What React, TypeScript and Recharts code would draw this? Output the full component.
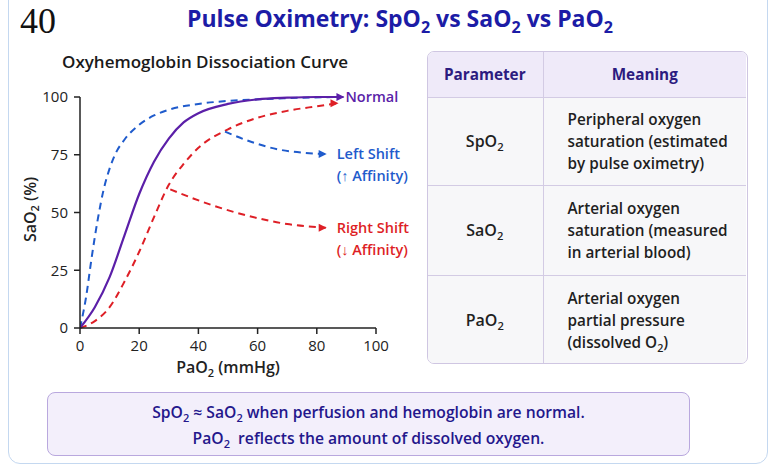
import React from 'react';
import { LineChart, Line, XAxis, YAxis, Label } from 'recharts';

// curve data (PaO2 mmHg -> SaO2 %)
const normalCurve = [
  { x: 0, y: 0 }, { x: 5, y: 9 }, { x: 10, y: 22 }, { x: 15, y: 40 }, { x: 20, y: 58 },
  { x: 25, y: 72 }, { x: 30, y: 82 }, { x: 35, y: 89 }, { x: 40, y: 93 }, { x: 50, y: 97 },
  { x: 60, y: 99 }, { x: 70, y: 99.7 }, { x: 80, y: 100 }, { x: 89, y: 100 },
];
const leftShiftCurve = [
  { x: 0, y: 0 }, { x: 2, y: 13 }, { x: 4, y: 31 }, { x: 6, y: 47 }, { x: 8, y: 60 },
  { x: 10, y: 69 }, { x: 12, y: 75.5 }, { x: 15, y: 81.5 }, { x: 20, y: 88 }, { x: 25, y: 92 },
  { x: 30, y: 94.5 }, { x: 40, y: 97 }, { x: 50, y: 98.3 }, { x: 60, y: 99 }, { x: 70, y: 99.5 },
  { x: 87, y: 100 },
];
const rightShiftCurve = [
  { x: 0, y: 0 }, { x: 5, y: 3 }, { x: 10, y: 9 }, { x: 15, y: 20 }, { x: 20, y: 33 },
  { x: 25, y: 48 }, { x: 30, y: 62 }, { x: 35, y: 71 }, { x: 40, y: 78 }, { x: 50, y: 86 },
  { x: 60, y: 91 }, { x: 70, y: 94 }, { x: 80, y: 96 }, { x: 87, y: 97.3 },
];
const leftPointer = [
  { x: 49, y: 85 }, { x: 58, y: 80.5 }, { x: 67, y: 77.3 }, { x: 76, y: 75.8 }, { x: 83, y: 75.3 },
];
const rightPointer = [
  { x: 30.5, y: 60 }, { x: 45, y: 53 }, { x: 57, y: 48.5 }, { x: 70, y: 45 }, { x: 83, y: 43.4 },
];

const xTicks = [0, 20, 40, 60, 80, 100];
const yTicks = [0, 25, 50, 75, 100];

const tableHead = ['Parameter', 'Meaning'];
const tableParams = ['SpO₂', 'SaO₂', 'PaO₂'];
const tableMeanings = [
  ['Peripheral oxygen', 'saturation (estimated', 'by pulse oximetry)'],
  ['Arterial oxygen', 'saturation (measured', 'in arterial blood)'],
  ['Arterial oxygen', 'partial pressure', '(dissolved O₂)'],
];
const noteLines = [
  'SpO₂ ≈ SaO₂ when perfusion and hemoglobin are normal.',
  'PaO₂  reflects the amount of dissolved oxygen.',
];

const PURPLE = '#5b1fa8';
const BLUE = '#1f5bcc';
const RED = '#de1f26';
const INK = '#24178c';
const FONT = '"Open Sans", "Noto Sans", sans-serif';

// html text with ₂ rendered as a subscript
function withSub(s: string) {
  const parts = s.split('₂');
  return parts.map((p, i) => (
    <React.Fragment key={i}>
      {p}
      {i < parts.length - 1 && <sub style={{ fontSize: '0.7em', verticalAlign: '-0.35em', lineHeight: 0 }}>2</sub>}
    </React.Fragment>
  ));
}

function arrowDot(color: string, len: number) {
  return (props: any) => {
    const { cx, cy, index } = props;
    if (index !== len - 1 || cx == null) return <g key={`d-${index}`} />;
    return (
      <path
        key={`d-${index}`}
        d={`M${cx - 7},${cy - 4} L${cx + 1},${cy} L${cx - 7},${cy + 4} Z`}
        fill={color}
      />
    );
  };
}

function endLabel(lines: string[], color: string, len: number, dx: number) {
  return (props: any) => {
    const { x, y, index } = props;
    if (index !== len - 1) return <g key={`l-${index}`} />;
    return (
      <text key={`l-${index}`} x={x + dx} fill={color} fontSize={14.5} fontWeight={600} fontFamily={FONT}>
        {lines.map((t, i) => (
          <tspan key={i} x={x + dx} y={y + 5 + i * 22}>{t}</tspan>
        ))}
      </text>
    );
  };
}

function Curve() {
  return (
    <LineChart width={440} height={340} margin={{ top: 47, right: 64, bottom: 32, left: 40 }}>
      <XAxis
        type="number"
        dataKey="x"
        domain={[0, 100]}
        ticks={xTicks}
        allowDataOverflow
        stroke="#222"
        strokeWidth={1.5}
        tickSize={6}
        tickMargin={6}
        height={30}
        tick={{ fill: '#222', fontSize: 15, fontFamily: FONT }}
      >
        <Label
          content={(p: any) => {
            const vb = p.viewBox;
            return (
              <text x={vb.x + vb.width / 2} y={vb.y + 45} textAnchor="middle" fill="#222" fontSize={16} fontWeight={600} fontFamily={FONT}>
                PaO<tspan dy={4} fontSize={11}>2</tspan><tspan dy={-4}>{'  (mmHg)'}</tspan>
              </text>
            );
          }}
        />
      </XAxis>
      <YAxis
        type="number"
        dataKey="y"
        domain={[0, 100]}
        ticks={yTicks}
        stroke="#222"
        strokeWidth={1.5}
        tickSize={6}
        tickMargin={6}
        width={40}
        tick={{ fill: '#222', fontSize: 15, fontFamily: FONT }}
      >
        <Label
          content={(p: any) => {
            const vb = p.viewBox;
            const cx = 30;
            const cy = vb.y + vb.height / 2 - 3;
            return (
              <text x={cx} y={cy} transform={`rotate(-90 ${cx} ${cy})`} textAnchor="middle" fill="#222" fontSize={16} fontWeight={600} fontFamily={FONT} dominantBaseline="central">
                SaO<tspan dy={4} fontSize={11}>2</tspan><tspan dy={-4}>{'  (%)'}</tspan>
              </text>
            );
          }}
        />
      </YAxis>
      <Line data={rightShiftCurve} dataKey="y" type="monotone" stroke={RED} strokeWidth={2} strokeDasharray="7 5" dot={arrowDot(RED, rightShiftCurve.length)} activeDot={false} isAnimationActive={false} />
      <Line data={leftShiftCurve} dataKey="y" type="monotone" stroke={BLUE} strokeWidth={2} strokeDasharray="7 5" dot={false} activeDot={false} isAnimationActive={false} />
      <Line data={normalCurve} dataKey="y" type="monotone" stroke={PURPLE} strokeWidth={2.2} dot={arrowDot(PURPLE, normalCurve.length)} activeDot={false} label={endLabel(['Normal'], PURPLE, normalCurve.length, 2)} isAnimationActive={false} />
      <Line data={leftPointer} dataKey="y" type="monotone" stroke={BLUE} strokeWidth={2} strokeDasharray="7 5" dot={arrowDot(BLUE, leftPointer.length)} activeDot={false} label={endLabel(['Left Shift', '(↑ Affinity)'], BLUE, leftPointer.length, 11)} isAnimationActive={false} />
      <Line data={rightPointer} dataKey="y" type="monotone" stroke={RED} strokeWidth={2} strokeDasharray="7 5" dot={arrowDot(RED, rightPointer.length)} activeDot={false} label={endLabel(['Right Shift', '(↓ Affinity)'], RED, rightPointer.length, 11)} isAnimationActive={false} />
    </LineChart>
  );
}

const cell: React.CSSProperties = { border: '1px solid #d3cbe4', padding: 0 };

export default function App() {
  return (
    <div style={{ position: 'absolute', left: 0, top: 0, width: 777, height: 474, background: '#fff', overflow: 'hidden', fontFamily: FONT }}>
      <div style={{ position: 'absolute', left: 8, top: -20, width: 760, height: 484, border: '1.5px solid #c4d8f0', borderRadius: 12, boxSizing: 'border-box' }} />
      <div style={{ position: 'absolute', left: 20, top: 0, fontFamily: '"Liberation Serif", serif', fontSize: 36, color: '#111' }}>40</div>
      <div style={{ position: 'absolute', left: 0, width: 800, top: 3, textAlign: 'center', fontSize: 23, lineHeight: '30px', fontWeight: 700, color: '#1c1ca6' }}>
        {withSub('Pulse Oximetry: SpO₂ vs SaO₂ vs PaO₂')}
      </div>
      <div style={{ position: 'absolute', left: 62, top: 50, fontSize: 17, fontWeight: 600, color: '#1a1a1a' }}>
        Oxyhemoglobin Dissociation Curve
      </div>
      <div style={{ position: 'absolute', left: 0, top: 50 }}>
        <Curve />
      </div>

      <div style={{ position: 'absolute', left: 427, top: 51, width: 321, height: 313, borderRadius: 7, overflow: 'hidden', border: '1px solid #cfc6e2', boxSizing: 'border-box' }}>
        <table style={{ borderCollapse: 'collapse', width: '100%', height: '100%', margin: -1, fontSize: 15.3, fontWeight: 600, color: '#1f1f1f', tableLayout: 'fixed', borderStyle: 'hidden' }}>
          <colgroup>
            <col style={{ width: 116 }} />
            <col />
          </colgroup>
          <tbody>
            <tr style={{ height: 46, background: '#efeaf9' }}>
              {tableHead.map((h) => (
                <td key={h} style={{ ...cell, textAlign: 'center', color: '#2c1b80', fontWeight: 700 }}>{h}</td>
              ))}
            </tr>
            {tableParams.map((p, i) => (
              <tr key={p} style={{ height: i === 0 ? 88 : i === 1 ? 90 : 89, background: '#f7f7f9' }}>
                <td style={{ ...cell, textAlign: 'center', fontSize: 16 }}>{withSub(p)}</td>
                <td style={{ ...cell, paddingLeft: 24, lineHeight: '22px' }}>
                  {tableMeanings[i].map((t, k) => (
                    <div key={k}>{withSub(t)}</div>
                  ))}
                </td>
              </tr>
            ))}
          </tbody>
        </table>
      </div>

      <div style={{ position: 'absolute', left: 47, top: 392, width: 643, height: 64, boxSizing: 'border-box', border: '1.5px solid #b9a8de', borderRadius: 8, background: '#f3effb', textAlign: 'center', color: INK, fontSize: 15.7, fontWeight: 600, paddingTop: 6, lineHeight: '26px' }}>
        {noteLines.map((t, i) => (
          <div key={i} style={{ whiteSpace: 'pre' }}>{withSub(t)}</div>
        ))}
      </div>
    </div>
  );
}
